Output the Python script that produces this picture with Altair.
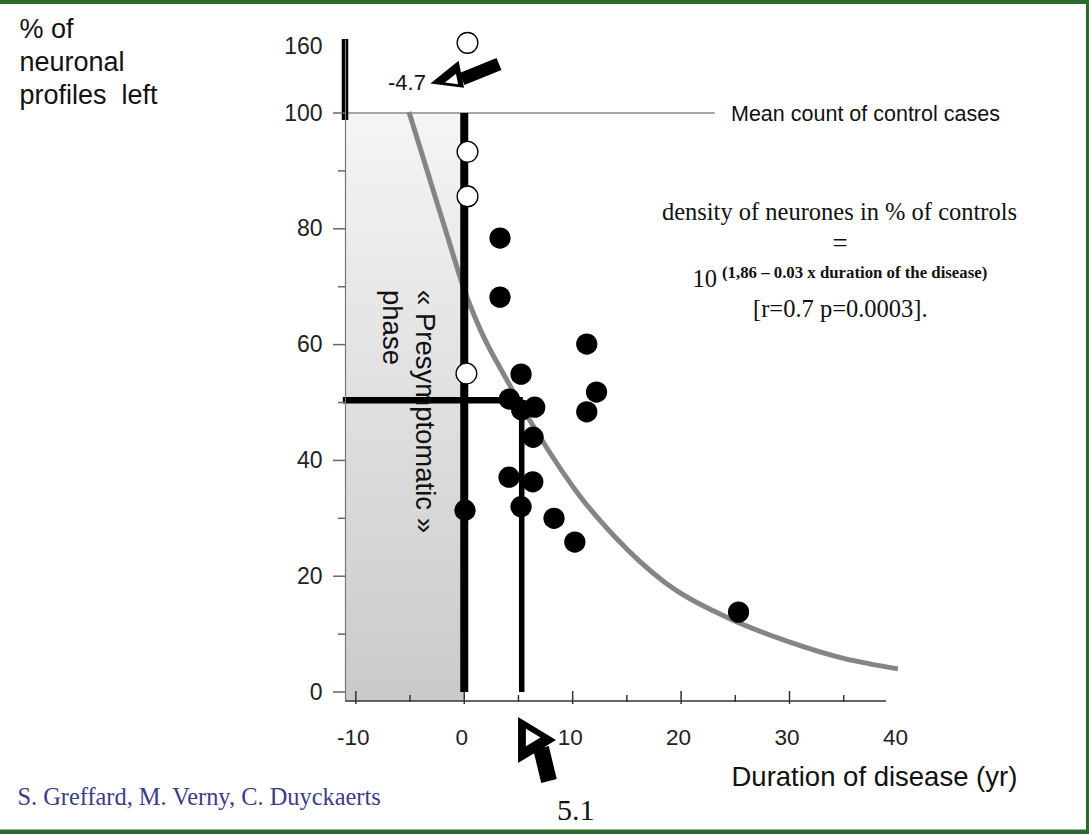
import altair as alt
import pandas as pd

# ---------------- values ----------------
curve_x = [-5.1, -3.5, -1.6, 0.0, 1.5, 3.9, 7.0, 10.6, 13.8, 18.6, 24.1, 29.9, 35.0, 40.0]
curve_y = [101.0, 90.5, 79.0, 69.5, 62.5, 54.0, 44.0, 34.0, 27.0, 18.8, 13.0, 8.7, 5.8, 4.0]

filled_x = [3.3, 3.3, 5.24, 4.16, 5.3, 6.5, 11.3, 12.2, 11.3, 6.35, 4.13, 6.32, 0.07, 5.24, 8.28, 10.2, 25.3]
filled_y = [78.4, 68.2, 54.9, 50.6, 48.7, 49.2, 60.1, 51.8, 48.4, 44.0, 37.1, 36.3, 31.4, 32.0, 30.0, 25.9, 13.8]

open_x = [0.3, 0.3, 0.3, 0.2]
open_y = [163.5, 93.3, 85.6, 55.0]

x_tick_major = [-10, 0, 10, 20, 30]
x_tick_minor = [-5, 5, 15, 25, 35]
x_tick_labels = [-10, 0, 10, 20, 30, 40]
y_tick_major = [0, 20, 40, 60, 80, 100]
y_tick_minor = [10, 30, 50, 70, 90]
y_tick_labels = [0, 20, 40, 60, 80, 100, 160]

presymp_x = [-11.0, 0.0]
presymp_y = [-1.55, 100.0]
control_mean = 100.0
control_line_x = [-11.0, 23.1]
onset_x = 0.0
half_x = 5.3
half_y = 50.4
break_bar_y = [98.8, 167.0]
x_axis_span = [-11.0, 38.9]

y_title = ["% of", "neuronal", "profiles\u00a0 left"]
x_title = "Duration of disease (yr)"

SANS = "Liberation Sans"
SERIF = "Liberation Serif"

W, H = 554, 662
xs = alt.Scale(domain=[-11, 40.1], nice=False, zero=False)
ys = alt.Scale(domain=[-1.55, 100, 167], range=[662, 74, 0], nice=False, zero=False)

xaxis = alt.Axis(values=x_tick_labels, ticks=False, tickSize=0, domain=False, grid=False,
                 labelFont=SANS, labelFontSize=22.5, labelColor="#222", labelPadding=43,
                 labelBaseline="alphabetic", labelOffset=-3, labelFlush=False,
                 labelExpr="'' + datum.value",
                 title=x_title, titleFont=SANS, titleFontSize=27.5, titleFontWeight="normal",
                 titleColor="#111", titleX=386, titleY=84, titleAlign="left",
                 titleBaseline="alphabetic", zindex=1)
yaxis = alt.Axis(values=y_tick_labels, ticks=False, tickSize=0, domain=True, domainColor="#777",
                 domainWidth=1.2, grid=False, labelFont=SANS, labelFontSize=23, labelColor="#222",
                 labelPadding=23, title=y_title, titleAngle=0, titleAlign="left",
                 titleBaseline="alphabetic", titleX=-326, titleY=-2, titleFont=SANS,
                 titleFontSize=27, titleFontWeight="normal", titleColor="#111",
                 titleLineHeight=33, zindex=1)


def X(f):
    return alt.X(f, type="quantitative", scale=xs, axis=xaxis)


def Y(f):
    return alt.Y(f, type="quantitative", scale=ys, axis=yaxis)


grad = alt.LinearGradient(gradient="linear",
                          stops=[alt.GradientStop(color="#f5f5f5", offset=0),
                                 alt.GradientStop(color="#cacaca", offset=1)],
                          x1=0, x2=0, y1=0, y2=1)

rect = alt.Chart(pd.DataFrame({"x": [presymp_x[0]], "x2": [presymp_x[1]],
                               "y": [presymp_y[0]], "y2": [presymp_y[1]]})).mark_rect(fill=grad).encode(
    x=X("x"), x2="x2:Q", y=Y("y"), y2="y2:Q")

ctrl_line = alt.Chart(pd.DataFrame({"x": [control_line_x[0]], "x2": [control_line_x[1]],
                                    "y": [control_mean]})).mark_rule(color="#8a8a8a", strokeWidth=1.6).encode(
    x=X("x"), x2="x2:Q", y=Y("y"))

curve = alt.Chart(pd.DataFrame({"x": curve_x, "y": curve_y})).mark_line(
    color="#858585", strokeWidth=5, interpolate="monotone").encode(x=X("x"), y=Y("y"))

v0 = alt.Chart(pd.DataFrame({"x": [onset_x], "y": [0.0], "y2": [control_mean]})).mark_rule(
    color="black", strokeWidth=8).encode(x=X("x"), y=Y("y"), y2="y2:Q")
v5 = alt.Chart(pd.DataFrame({"x": [half_x], "y": [0.0], "y2": [half_y]})).mark_rule(
    color="black", strokeWidth=5.5).encode(x=X("x"), y=Y("y"), y2="y2:Q")
h50 = alt.Chart(pd.DataFrame({"x": [-11.2], "x2": [half_x + 0.1], "y": [half_y]})).mark_rule(
    color="black", strokeWidth=6.5).encode(x=X("x"), x2="x2:Q", y=Y("y"))
bar = alt.Chart(pd.DataFrame({"x": [presymp_x[0]], "y": [break_bar_y[0]], "y2": [break_bar_y[1]]})).mark_rule(
    color="black", strokeWidth=6.5).encode(x=X("x"), y=Y("y"), y2="y2:Q")

xline = alt.Chart(pd.DataFrame({"x": [x_axis_span[0]], "x2": [x_axis_span[1]]})).mark_rule(
    color="#333", strokeWidth=1.6).encode(x=X("x"), x2="x2:Q", y=alt.value(H))

xt_major = alt.Chart(pd.DataFrame({"x": x_tick_major})).mark_rule(color="#333", strokeWidth=1.5).encode(
    x=X("x"), y=alt.value(H - 10), y2=alt.value(H + 3))
xt_minor = alt.Chart(pd.DataFrame({"x": x_tick_minor})).mark_rule(color="#333", strokeWidth=1.5).encode(
    x=X("x"), y=alt.value(H - 6), y2=alt.value(H + 1))
yt_major = alt.Chart(pd.DataFrame({"y": y_tick_major})).mark_rule(color="#666", strokeWidth=1.5).encode(
    y=Y("y"), x=alt.value(0), x2=alt.value(-12))
yt_minor = alt.Chart(pd.DataFrame({"y": y_tick_minor})).mark_rule(color="#666", strokeWidth=1.5).encode(
    y=Y("y"), x=alt.value(0), x2=alt.value(-7))

filled = alt.Chart(pd.DataFrame({"x": filled_x, "y": filled_y})).mark_circle(
    size=452, color="black", opacity=1).encode(x=X("x"), y=Y("y"))
opened = alt.Chart(pd.DataFrame({"x": open_x, "y": open_y})).mark_point(
    shape="circle", filled=True, fill="white", stroke="black", strokeWidth=1.3,
    size=430, opacity=1).encode(x=X("x"), y=Y("y"))


def txt(s, x, y, align="left", font=SANS, size=20, weight="normal", color="#111", angle=0):
    kw = dict(align=align, baseline="alphabetic", font=font, fontSize=size,
              fontWeight=weight, color=color)
    if angle:
        kw["angle"] = angle
    return alt.Chart(pd.DataFrame({"t": [s]})).mark_text(**kw).encode(
        x=alt.value(x), y=alt.value(y), text="t:N")


texts = [
    txt("Mean count of control cases", 386, 81.7, size=21.5),
    txt("density of neurones in % of controls", 494.5, 181, align="center", font=SERIF, size=24.5),
    txt("=", 495, 213, align="center", font=SERIF, size=27),
    txt("10", 347.5, 247.7, font=SERIF, size=24.5),
    txt("(1,86 \u2013 0.03 x duration of the disease)", 377, 239.3, font=SERIF, size=16.8, weight="bold"),
    txt("[r=0.7 p=0.0003].", 408, 277.7, font=SERIF, size=24.5),
    txt("S. Greffard, M. Verny, C. Duyckaerts", -327.6, 766, font=SERIF, size=24.4, color="#3c3c8a"),
    txt("5.1", 212, 781, font=SERIF, size=30),
    txt("-4.7", 43, 51, size=22),
    txt("\u00ab Presymptomatic \u00bb", 71, 251, size=27.5, angle=90),
    txt("phase", 38, 251, size=27.5, angle=90),
]


def shape(path, x, y, size, color):
    return alt.Chart(pd.DataFrame({"k": [0]})).mark_point(
        shape=path, size=size, filled=True, color=color, opacity=1).encode(
        x=alt.value(x), y=alt.value(y))


def seg(x, y, x2, y2, w):
    return alt.Chart(pd.DataFrame({"k": [0]})).mark_rule(color="black", strokeWidth=w).encode(
        x=alt.value(x), y=alt.value(y), x2=alt.value(x2), y2=alt.value(y2))


top_head = "M -1 0.316 L 0.368 -0.789 L 0.632 0.526 Z"
bot_head = "M -0.46 -0.885 L -0.46 0.885 L 1 0 Z"
arrows = [
    seg(117, 40, 154, 25, 13),
    shape(top_head, 106, 38, 1700, "black"),
    shape(top_head, 108, 41, 260, "white"),
    seg(196, 709, 204, 742, 16),
    shape(bot_head, 185, 701, 2704, "black"),
    shape(bot_head, 185.5, 698.5, 400, "white"),
]

GREEN = "#2b6a2b"
border = [
    alt.Chart(pd.DataFrame({"k": [0]})).mark_rule(color=GREEN, strokeWidth=4).encode(
        x=alt.value(-345), x2=alt.value(744), y=alt.value(-37)),
    alt.Chart(pd.DataFrame({"k": [0]})).mark_rule(color=GREEN, strokeWidth=3).encode(
        x=alt.value(742.5), y=alt.value(-39), y2=alt.value(795)),
    alt.Chart(pd.DataFrame({"k": [0]})).mark_rule(color=GREEN, strokeWidth=5).encode(
        x=alt.value(-345), x2=alt.value(744), y=alt.value(793)),
]

chart = alt.layer(
    rect, ctrl_line, curve, v0, v5, h50, bar, xline, xt_major, xt_minor, yt_major, yt_minor,
    opened, filled, *texts, *arrows, *border
).properties(
    width=W, height=H,
    autosize=alt.AutoSizeParams(type="none"),
    padding={"left": 345, "top": 39, "right": 1089 - 345 - W, "bottom": 834 - 39 - H},
).configure(background="white").configure_view(stroke=None)

chart.save("out.html", embed_options={"renderer": "svg", "actions": False})
